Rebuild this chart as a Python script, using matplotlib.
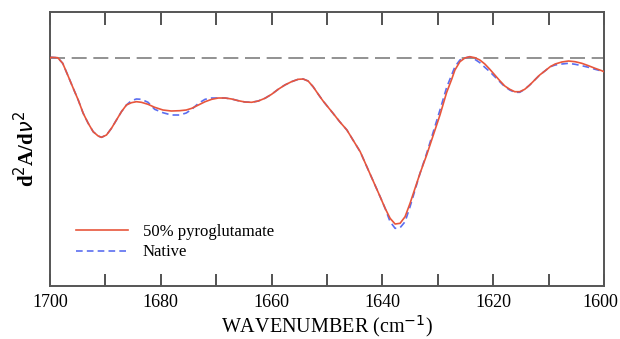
import matplotlib
matplotlib.use('Agg')
import matplotlib.pyplot as plt
from matplotlib.ticker import MultipleLocator, FuncFormatter
from matplotlib.transforms import ScaledTranslation

# --- data (arbitrary d2A/dv2 units, 0 = dashed baseline) ---
wavenumber = [1700.0, 1699.8, 1698.6, 1697.7, 1696.8, 1695.8, 1694.9, 1694.0, 1693.1,
              1692.2, 1691.3, 1690.7, 1689.8, 1688.9, 1688.0, 1687.1, 1686.2, 1685.3,
              1684.4, 1683.5, 1682.3, 1681.1, 1679.6, 1678.1, 1676.6, 1675.4, 1674.4,
              1673.2, 1672.0, 1670.8, 1669.6, 1668.4, 1667.2, 1666.0, 1664.8, 1663.6,
              1662.4, 1661.2, 1660.0, 1658.8, 1657.6, 1656.4, 1655.2, 1654.3, 1653.4,
              1652.5, 1651.6, 1650.7, 1648.9, 1647.7, 1646.4, 1645.3, 1644.0, 1642.8,
              1641.6, 1640.4, 1639.5, 1638.6, 1637.7, 1636.8, 1635.9, 1635.0, 1634.1,
              1633.2, 1632.0, 1630.8, 1629.6, 1628.4, 1627.5, 1626.9, 1626.0, 1625.1,
              1624.2, 1623.3, 1622.4, 1621.5, 1620.6, 1619.7, 1618.8, 1617.9, 1617.0,
              1616.1, 1615.2, 1614.3, 1613.4, 1612.5, 1611.6, 1610.6, 1609.7, 1608.8,
              1607.6, 1606.4, 1605.2, 1604.0, 1602.8, 1601.6, 1600.4, 1600.0]

pyro = [-0.08, 0.02, -0.02, -0.58, -1.75, -3.08, -4.25, -5.58, -6.58,
        -7.42, -7.85, -7.98, -7.75, -7.08, -6.25, -5.42, -4.75, -4.52,
        -4.42, -4.48, -4.68, -4.98, -5.25, -5.35, -5.32, -5.25, -5.08,
        -4.75, -4.42, -4.18, -4.05, -4.05, -4.15, -4.32, -4.45, -4.48,
        -4.35, -4.08, -3.68, -3.18, -2.75, -2.42, -2.18, -2.15, -2.35,
        -2.92, -3.65, -4.35, -5.58, -6.42, -7.25, -8.25, -9.42, -10.92,
        -12.42, -13.92, -15.08, -16.08, -16.65, -16.58, -15.92, -14.58, -13.08,
        -11.58, -9.75, -7.75, -5.75, -3.5, -2.2, -1.25, -0.42, -0.05,
        0.08, -0.02, -0.25, -0.65, -1.18, -1.75, -2.32, -2.85, -3.18,
        -3.42, -3.42, -3.18, -2.75, -2.25, -1.75, -1.32, -0.92, -0.65,
        -0.45, -0.35, -0.42, -0.58, -0.82, -1.08, -1.32, -1.42]

native = [-0.08, 0.02, -0.02, -0.58, -1.75, -3.08, -4.25, -5.58, -6.58,
          -7.42, -7.85, -7.98, -7.75, -7.08, -6.25, -5.42, -4.75, -4.32,
          -4.15, -4.18, -4.48, -5.18, -5.52, -5.75, -5.75, -5.55, -5.18,
          -4.58, -4.18, -4.05, -4.05, -4.05, -4.15, -4.32, -4.45, -4.48,
          -4.35, -4.08, -3.68, -3.18, -2.75, -2.42, -2.18, -2.15, -2.35,
          -2.92, -3.65, -4.35, -5.58, -6.42, -7.25, -8.25, -9.42, -10.92,
          -12.42, -13.92, -15.08, -16.42, -17.08, -17.02, -16.42, -14.92, -13.25,
          -11.58, -9.58, -7.42, -5.25, -3.0, -1.75, -0.92, -0.25, -0.05,
          0.08, -0.18, -0.52, -0.98, -1.42, -1.92, -2.42, -2.92, -3.25,
          -3.48, -3.48, -3.18, -2.75, -2.25, -1.75, -1.32, -0.92, -0.75,
          -0.65, -0.58, -0.68, -0.82, -0.98, -1.18, -1.35, -1.42]

series_labels = ["50% pyroglutamate", "Native"]

plt.rcParams['font.family'] = ['Liberation Serif', 'DejaVu Serif']

fig = plt.figure(figsize=(6.2, 3.39), dpi=100)
ax = fig.add_axes([0.0806, 0.1563, 0.8935, 0.8083])

ax.axhline(0, color='#7f7f7f', lw=1.2, dashes=(9, 4), zorder=1)
ax.plot(wavenumber, pyro, color='#e8563c', lw=1.2, label=series_labels[0], zorder=3)
ax.plot(wavenumber, native, color='#5b6ef0', lw=1.2, dashes=(4, 2.5),
        label=series_labels[1], zorder=2)

ax.set_xlim(1700, 1600)
ax.set_ylim(-22.85, 4.55)

# ticks every 10, labels every 20
ax.xaxis.set_major_locator(MultipleLocator(10))
ax.xaxis.set_major_formatter(FuncFormatter(lambda v, p: f"{v:.0f}" if round(v) % 20 == 0 else ""))
ax.tick_params(axis='x', direction='in', length=9, width=1.3, color='#444444',
               top=True, labelsize=13, pad=6)
ax.set_yticks([])
for s in ax.spines.values():
    s.set_color('#555555')
    s.set_linewidth(1.4)

ax.set_xlabel("WAVENUMBER (cm$^{-1}$)", fontsize=14.5, labelpad=1)
ax.set_ylabel(r"d$^2$A/d$\nu^2$", fontsize=15, fontweight='bold', labelpad=8)

ax.legend(loc='upper left', bbox_to_anchor=(0.035, 0.25), frameon=False, fontsize=12,
          handlelength=3.1, handletextpad=0.9, labelspacing=0.25, borderaxespad=0)

# nudge the last tick label so it stays inside the figure
fig.canvas.draw()
for lbl in ax.get_xticklabels():
    if lbl.get_text() == "1600":
        lbl.set_transform(lbl.get_transform() + ScaledTranslation(-4 / 100, 0, fig.dpi_scale_trans))

plt.savefig('out.png', dpi=100)
